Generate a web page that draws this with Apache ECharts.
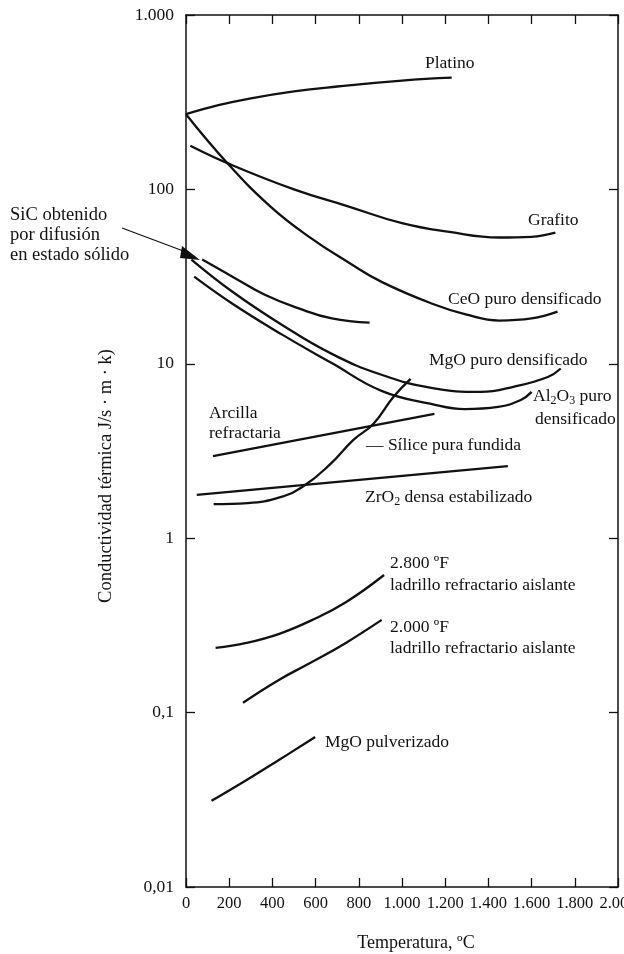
<!DOCTYPE html>
<html>
<head>
<meta charset="utf-8">
<script src="https://cdn.jsdelivr.net/npm/echarts@6/dist/echarts.min.js"></script>
<style>
  html, body { margin: 0; background: #fff; }
  #chart { width: 624px; height: 954px; }
</style>
</head>
<body>
<div id="chart"></div>
<script>
// [temperatura ºC, conductividad J/s·m·K]
const platino  = [[0,270],[150,304],[300,333],[500,365],[700,389],[1000,421],[1230,437]];
const grafito  = [[20,178],[200,140],[500,100],[750,80],[1000,64],[1220,57],[1450,53],[1600,53.5],[1710,56.5]];
const ceo      = [[0,270],[195,140],[390,80],[565,54],[760,37.6],[910,29.3],[1140,22.1],[1295,19.2],[1450,17.7],[1600,18.2],[1720,19.9]];
const sic      = [[75,39.6],[215,31.6],[365,24.9],[525,20.7],[675,18.2],[850,17.2]];
const mgo      = [[25,39.6],[215,25.9],[445,16.7],[675,11.4],[905,8.65],[1135,7.28],[1365,6.9],[1520,7.4],[1675,8.4],[1735,9.4]];
const al2o3    = [[38,31.6],[215,22.1],[445,14.7],[675,10.1],[905,7.0],[1135,5.89],[1290,5.5],[1445,5.66],[1550,6.2],[1600,6.9]];
const silice   = [[128,1.57],[285,1.59],[437,1.72],[545,1.99],[668,2.66],[775,3.66],[867,4.52],[960,6.46],[1040,8.2]];
const arcilla  = [[125,2.96],[1150,5.17]];
const zro2     = [[50,1.77],[1490,2.59]];
const f2800    = [[137,0.235],[280,0.251],[432,0.283],[585,0.34],[742,0.431],[917,0.615]];
const f2000    = [[264,0.114],[430,0.154],[583,0.195],[740,0.251],[906,0.34]];
const mgoPulv  = [[118,0.0312],[275,0.0407],[428,0.0533],[598,0.0724]];

// etiquetas de los ejes
const xTicks = [0,200,400,600,800,1000,1200,1400,1600,1800,2000];
const xTickLabels = ['0','200','400','600','800','1.000','1.200','1.400','1.600','1.800','2.000'];
const yTickLabels = ['0,01','0,1','1','10','100','1.000']; // 10^-2 .. 10^3

const INK = '#111';
const FONT = "'Liberation Serif', 'DejaVu Serif', serif";

const chart = echarts.init(document.getElementById('chart'));

function curve(name, data) {
  return {
    name: name, type: 'line', data: data,
    xAxisIndex: 0, yAxisIndex: 0,
    smooth: data.length > 2 ? 0.45 : false,
    showSymbol: false, silent: true,
    lineStyle: { color: INK, width: 2.3 }
  };
}

function txt(text, x, y, opt) {
  return {
    type: 'text', x: x, y: y, silent: true,
    rotation: (opt && opt.rotation) || 0,
    style: Object.assign({
      text: text, fill: INK, fontFamily: FONT, fontSize: 17.5,
      verticalAlign: 'middle', align: 'left'
    }, opt && opt.style)
  };
}

const subRich = { s: { fontSize: 12, fontFamily: FONT, fill: INK, verticalAlign: 'bottom', padding: [10, 0, 0, 0] } };

const axisLine = { show: true, onZero: false, lineStyle: { color: INK, width: 1.5 } };
const tick = { show: true, inside: true, length: 9, lineStyle: { color: INK, width: 1.3 } };

const option = {
  backgroundColor: '#fff',
  animation: false,
  grid: { left: 186, right: 6, top: 15, bottom: 67, containLabel: false, outerBoundsMode: 'none' },
  xAxis: [
    {
      type: 'value', min: 0, max: 2000, interval: 200, position: 'bottom',
      axisLine: axisLine, axisTick: tick, splitLine: { show: false },
      axisLabel: {
        color: INK, fontFamily: FONT, fontSize: 16.5, margin: 8,
        showMinLabel: true, showMaxLabel: true,
        formatter: v => xTickLabels[xTicks.indexOf(v)]
      }
    },
    {
      type: 'value', min: 0, max: 2000, interval: 200, position: 'top',
      axisLine: axisLine, axisTick: tick, axisLabel: { show: false }, splitLine: { show: false }
    }
  ],
  yAxis: [
    {
      type: 'log', logBase: 10, min: 0.01, max: 1000, position: 'left',
      axisLine: axisLine, axisTick: tick, splitLine: { show: false }, minorTick: { show: false },
      axisLabel: {
        color: INK, fontFamily: FONT, fontSize: 17.5, margin: 12,
        formatter: v => yTickLabels[Math.round(Math.log10(v)) + 2]
      }
    },
    {
      type: 'log', logBase: 10, min: 0.01, max: 1000, position: 'right',
      axisLine: axisLine, axisTick: tick, axisLabel: { show: false },
      splitLine: { show: false }, minorTick: { show: false }
    }
  ],
  series: [
    curve('Platino', platino),
    curve('Grafito', grafito),
    curve('CeO puro densificado', ceo),
    curve('SiC obtenido por difusión en estado sólido', sic),
    curve('MgO puro densificado', mgo),
    curve('Al2O3 puro densificado', al2o3),
    curve('Sílice pura fundida', silice),
    curve('Arcilla refractaria', arcilla),
    curve('ZrO2 densa estabilizado', zro2),
    curve('2.800 ºF ladrillo refractario aislante', f2800),
    curve('2.000 ºF ladrillo refractario aislante', f2000),
    curve('MgO pulverizado', mgoPulv)
  ],
  graphic: [
    txt('Platino', 425, 63),
    txt('Grafito', 528, 220),
    txt('CeO puro densificado', 448, 299),
    txt('MgO puro densificado', 429, 360),
    txt('Al{s|2}O{s|3} puro', 533, 396, { style: { rich: subRich } }),
    txt('densificado', 535, 419),
    txt('Arcilla', 209, 413),
    txt('refractaria', 209, 433),
    txt('— Sílice pura fundida', 366, 445),
    txt('ZrO{s|2} densa estabilizado', 365, 497, { style: { rich: subRich } }),
    txt('2.800 ºF', 390, 563),
    txt('ladrillo refractario aislante', 390, 585),
    txt('2.000 ºF', 390, 627),
    txt('ladrillo refractario aislante', 390, 648),
    txt('MgO pulverizado', 325, 742),
    txt('SiC obtenido', 10, 215, { style: { fontSize: 18.5 } }),
    txt('por difusión', 10, 235, { style: { fontSize: 18.5 } }),
    txt('en estado sólido', 10, 255, { style: { fontSize: 18.5 } }),
    {
      type: 'line', silent: true,
      shape: { x1: 122, y1: 228, x2: 186, y2: 252 },
      style: { stroke: INK, lineWidth: 1.3 }
    },
    {
      type: 'polygon', silent: true,
      shape: { points: [[182, 246], [180, 258], [200, 260]] },
      style: { fill: INK }
    },
    txt('Temperatura, ºC', 416, 943, { style: { align: 'center', fontSize: 18 } }),
    txt('Conductividad térmica J/s · m · k)', 106, 476, { rotation: Math.PI / 2, style: { align: 'center', fontSize: 18.5 } })
  ]
};

chart.setOption(option);
</script>
</body>
</html>
